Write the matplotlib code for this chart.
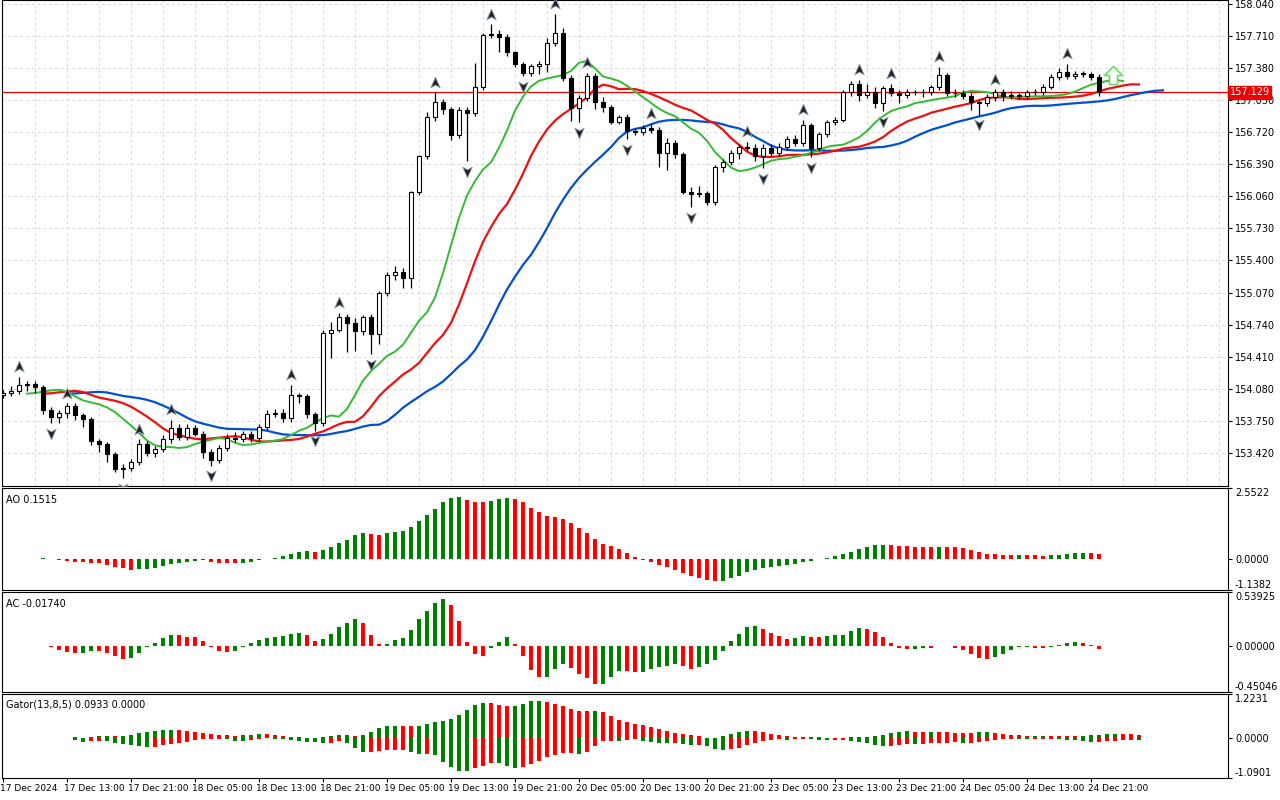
import matplotlib
matplotlib.use('Agg')
import matplotlib.pyplot as plt
from matplotlib.path import Path
import numpy as np
import pandas as pd

# hourly closes, 17 Dec 05:00 .. 24 Dec 22:00
closes = [154.04, 154.06, 154.12, 154.13, 154.10, 153.86, 153.79, 153.83, 153.90, 153.81,
          153.77, 153.54, 153.51, 153.41, 153.26, 153.27, 153.33, 153.51, 153.42, 153.46,
          153.56, 153.68, 153.58, 153.68, 153.62, 153.43, 153.35, 153.47, 153.57, 153.56,
          153.62, 153.57, 153.69, 153.82, 153.83, 153.78, 154.02, 154.01, 153.82, 153.73,
          154.65, 154.69, 154.82, 154.76, 154.67, 154.82, 154.64, 155.07, 155.25, 155.28,
          155.22, 156.10, 156.47, 156.88, 157.03, 156.96, 156.69, 156.95, 156.92, 157.18,
          157.72, 157.73, 157.70, 157.54, 157.42, 157.33, 157.40, 157.42, 157.64, 157.74,
          157.28, 156.97, 157.07, 157.30, 157.03, 156.98, 156.83, 156.88, 156.73, 156.72,
          156.76, 156.74, 156.51, 156.61, 156.50, 156.10, 156.08, 156.09, 156.00, 156.36,
          156.41, 156.51, 156.57, 156.56, 156.47, 156.56, 156.51, 156.57, 156.65, 156.61,
          156.79, 156.56, 156.70, 156.82, 156.85, 157.13, 157.22, 157.10, 157.13, 157.02,
          157.17, 157.12, 157.10, 157.13, 157.13, 157.13, 157.18, 157.31, 157.12, 157.12,
          157.09, 157.03, 157.02, 157.08, 157.13, 157.09, 157.09, 157.09, 157.13, 157.13,
          157.19, 157.29, 157.34, 157.30, 157.32, 157.32, 157.29, 157.13]
first_open = 154.02

upper_wick = [0.03, 0.05, 0.08, 0.03, 0.03, 0.02, 0.03, 0.03, 0.03, 0.03,
              0.02, 0.02, 0.02, 0.02, 0.02, 0.04, 0.03, 0.05, 0.03, 0.03,
              0.04, 0.08, 0.04, 0.04, 0.03, 0.03, 0.03, 0.03, 0.05, 0.07,
              0.03, 0.03, 0.03, 0.04, 0.04, 0.04, 0.10, 0.02, 0.02, 0.02,
              0.03, 0.08, 0.04, 0.03, 0.05, 0.02, 0.03, 0.02, 0.03, 0.06,
              0.04, 0.02, 0.02, 0.05, 0.10, 0.03, 0.02, 0.03, 0.03, 0.25,
              0.02, 0.10, 0.04, 0.03, 0.02, 0.02, 0.02, 0.03, 0.05, 0.20,
              0.05, 0.03, 0.03, 0.03, 0.03, 0.05, 0.02, 0.02, 0.03, 0.03,
              0.03, 0.05, 0.03, 0.05, 0.03, 0.02, 0.06, 0.08, 0.02, 0.02,
              0.03, 0.03, 0.03, 0.05, 0.04, 0.04, 0.04, 0.04, 0.03, 0.04,
              0.06, 0.02, 0.02, 0.03, 0.03, 0.02, 0.03, 0.04, 0.09, 0.05,
              0.03, 0.05, 0.03, 0.03, 0.02, 0.03, 0.03, 0.08, 0.02, 0.04,
              0.03, 0.03, 0.02, 0.03, 0.03, 0.03, 0.05, 0.03, 0.02, 0.03,
              0.03, 0.03, 0.04, 0.08, 0.03, 0.03, 0.02, 0.03]
lower_wick = [0.03, 0.03, 0.03, 0.06, 0.06, 0.04, 0.06, 0.06, 0.05, 0.05,
              0.08, 0.04, 0.08, 0.08, 0.04, 0.10, 0.04, 0.03, 0.03, 0.04,
              0.03, 0.04, 0.03, 0.03, 0.03, 0.06, 0.06, 0.03, 0.03, 0.03,
              0.03, 0.04, 0.03, 0.03, 0.03, 0.04, 0.04, 0.08, 0.04, 0.08,
              0.03, 0.25, 0.03, 0.30, 0.20, 0.04, 0.20, 0.10, 0.04, 0.05,
              0.10, 0.10, 0.03, 0.03, 0.04, 0.05, 0.05, 0.03, 0.50, 0.03,
              0.03, 0.03, 0.15, 0.04, 0.03, 0.03, 0.03, 0.08, 0.08, 0.03,
              0.03, 0.13, 0.15, 0.03, 0.07, 0.05, 0.03, 0.03, 0.08, 0.03,
              0.03, 0.03, 0.15, 0.18, 0.05, 0.02, 0.13, 0.03, 0.03, 0.03,
              0.05, 0.03, 0.07, 0.03, 0.05, 0.12, 0.03, 0.03, 0.03, 0.03,
              0.03, 0.10, 0.03, 0.03, 0.03, 0.03, 0.04, 0.06, 0.03, 0.05,
              0.08, 0.03, 0.08, 0.03, 0.03, 0.05, 0.03, 0.03, 0.03, 0.04,
              0.03, 0.08, 0.12, 0.03, 0.04, 0.05, 0.03, 0.03, 0.03, 0.03,
              0.03, 0.03, 0.03, 0.03, 0.03, 0.03, 0.03, 0.04]

tick_labels = ['17 Dec 2024', '17 Dec 13:00', '17 Dec 21:00', '18 Dec 05:00', '18 Dec 13:00',
               '18 Dec 21:00', '19 Dec 05:00', '19 Dec 13:00', '19 Dec 21:00', '20 Dec 05:00',
               '20 Dec 13:00', '20 Dec 21:00', '23 Dec 05:00', '23 Dec 13:00', '23 Dec 21:00',
               '24 Dec 05:00', '24 Dec 13:00', '24 Dec 21:00']
price_ticks = [158.040, 157.710, 157.380, 157.050, 156.720, 156.390, 156.060, 155.730,
               155.400, 155.070, 154.740, 154.410, 154.080, 153.750, 153.420]
last_price = 157.129

c = np.array(closes)
o = np.concatenate([[first_open], c[:-1]])
h = np.maximum(o, c) + np.array(upper_wick)
l = np.minimum(o, c) - np.array(lower_wick)
n = len(c)
idx = np.arange(n)
med = pd.Series((h + l) / 2)

W, H = 1280, 800
fig = plt.figure(figsize=(12.8, 8), dpi=100)
fig.patch.set_facecolor('white')

def px_axes(top, bottom):
    return fig.add_axes([2 / W, 1 - bottom / H, (1228 - 2) / W, (bottom - top) / H])

xlim = ((2 - 3) / 8, (1228 - 3) / 8)

ax = px_axes(0, 486)
ax1 = px_axes(488, 590)
ax2 = px_axes(592, 692)
ax3 = px_axes(694, 778)

for a in (ax, ax1, ax2, ax3):
    a.set_xlim(*xlim)
    a.yaxis.tick_right()
    a.tick_params(axis='y', labelsize=7, length=3, pad=2)
    a.tick_params(axis='x', length=0, labelbottom=False)
    for s in a.spines.values():
        s.set_color('black')
        s.set_linewidth(0.8)

# main panel
ax.set_ylim(153.08, 158.08)
ax.set_yticks(price_ticks)
ax.set_yticklabels(['%.3f' % p for p in price_ticks])
ax.set_xticks(np.arange(4, 153, 4))
ax.grid(True, color='#d8d8d8', linestyle=(0, (3, 3)), linewidth=0.7)
ax.set_axisbelow(True)

# alligator
def smma(s, p):
    return s.ewm(alpha=1.0 / p, adjust=False).mean().values

jaw = smma(med, 13)
teeth = smma(med, 8)
lips = smma(med, 5)
ax.plot(idx + 8, jaw, color='#0050d0', lw=1.6, zorder=2)
ax.plot(idx + 5, teeth, color='#ee1010', lw=1.6, zorder=2)
ax.plot(idx + 3, lips, color='#33bb33', lw=1.4, zorder=2)

# candles
bw = 0.6
for i in range(n):
    ax.vlines(i, l[i], h[i], color='black', lw=0.9, zorder=3)
    lo, hi = min(o[i], c[i]), max(o[i], c[i])
    body = max(hi - lo, 0.008)
    fc = 'white' if c[i] >= o[i] else 'black'
    ax.add_patch(plt.Rectangle((i - bw / 2, lo), bw, body, facecolor=fc,
                               edgecolor='black', lw=0.8, zorder=4))

# fractals
up_m = Path([(0, 1), (-0.75, -0.7), (0, -0.25), (0.75, -0.7), (0, 1)],
            [Path.MOVETO, Path.LINETO, Path.LINETO, Path.LINETO, Path.CLOSEPOLY])
dn_m = Path([(0, -1), (-0.75, 0.7), (0, 0.25), (0.75, 0.7), (0, -1)],
            [Path.MOVETO, Path.LINETO, Path.LINETO, Path.LINETO, Path.CLOSEPOLY])
for i in range(2, n - 2):
    if h[i] > max(h[i - 2], h[i - 1]) and h[i] >= max(h[i + 1], h[i + 2]):
        ax.plot(i, h[i] + 0.1, marker=up_m, ms=9, mfc='#222222', mec='#8899aa', mew=0.6, zorder=5)
    if l[i] < min(l[i - 2], l[i - 1]) and l[i] <= min(l[i + 1], l[i + 2]):
        ax.plot(i, l[i] - 0.1, marker=dn_m, ms=9, mfc='#222222', mec='#8899aa', mew=0.6, zorder=5)

arrow_m = Path([(0, 1), (-1, 0), (-0.45, 0), (-0.45, -1), (0.45, -1), (0.45, 0), (1, 0), (0, 1)],
               [Path.MOVETO] + [Path.LINETO] * 6 + [Path.CLOSEPOLY])
ax.plot(n + 0.75, 157.31, marker=arrow_m, ms=13, mfc='white', mec='#66dd66', mew=1.2, zorder=5)

ax.axhline(last_price, color='#ee0000', lw=0.9, zorder=1)
ax.text(1.0015, last_price, '%.3f' % last_price, transform=ax.get_yaxis_transform(),
        fontsize=7, color='white', va='center', ha='left',
        bbox=dict(boxstyle='square,pad=0.15', fc='#ee0000', ec='#ee0000'), zorder=6)

# AO / AC
sma5 = med.rolling(5, min_periods=1).mean()
sma34 = med.rolling(34, min_periods=1).mean()
ao = (sma5 - sma34).values
ac = ao - pd.Series(ao).rolling(5, min_periods=1).mean().values

def trend_bars(a, x, vals):
    cols = ['#008000' if k > 0 and vals[k] > vals[k - 1] else '#ff0000' for k in range(len(vals))]
    a.bar(x, vals, width=0.42, color=cols, lw=0)

def set_panel_ticks(a, lo, hi, labels):
    a.set_ylim(lo, hi)
    a.set_yticks([hi, 0.0, lo])
    a.set_yticklabels(labels)
    tl = a.get_yticklabels()
    tl[0].set_va('top')
    tl[2].set_va('bottom')

trend_bars(ax1, idx, ao)
set_panel_ticks(ax1, -1.1382, 2.5522, ['2.5522', '0.0000', '-1.1382'])
ax1.text(0.003, 0.93, 'AO 0.1515', transform=ax1.transAxes, fontsize=7, va='top')

trend_bars(ax2, idx, ac)
set_panel_ticks(ax2, -0.45046, 0.53925, ['0.53925', '0.00000', '-0.45046'])
ax2.text(0.003, 0.93, 'AC -0.01740', transform=ax2.transAxes, fontsize=7, va='top')

# Gator
gx = np.arange(8, n + 5)
up = np.abs(jaw[gx - 8] - teeth[np.minimum(gx - 5, n - 1)])
dn = -np.abs(teeth[np.minimum(gx - 5, n - 1)] - lips[np.minimum(gx - 3, n - 1)])
ucol = ['#008000' if k > 0 and up[k] > up[k - 1] else '#ff0000' for k in range(len(up))]
dcol = ['#008000' if k > 0 and abs(dn[k]) > abs(dn[k - 1]) else '#ff0000' for k in range(len(dn))]
ax3.bar(gx, up, width=0.42, color=ucol, lw=0)
ax3.bar(gx, dn, width=0.42, color=dcol, lw=0)
set_panel_ticks(ax3, -1.0901, 1.2231, ['1.2231', '0.0000', '-1.0901'])
ax3.text(0.003, 0.93, 'Gator(13,8,5) 0.0933 0.0000', transform=ax3.transAxes, fontsize=7, va='top')

# time axis
tpos = np.arange(0, n, 8)
ax3.set_xticks(tpos)
ax3.tick_params(axis='x', length=3, direction='out')
for k, t in enumerate(tick_labels):
    ax3.text(tpos[k] - 0.35, -0.07, t, transform=ax3.get_xaxis_transform(),
             fontsize=6.5, ha='left', va='top')

fig.savefig('out.png', dpi=100, facecolor='white')
